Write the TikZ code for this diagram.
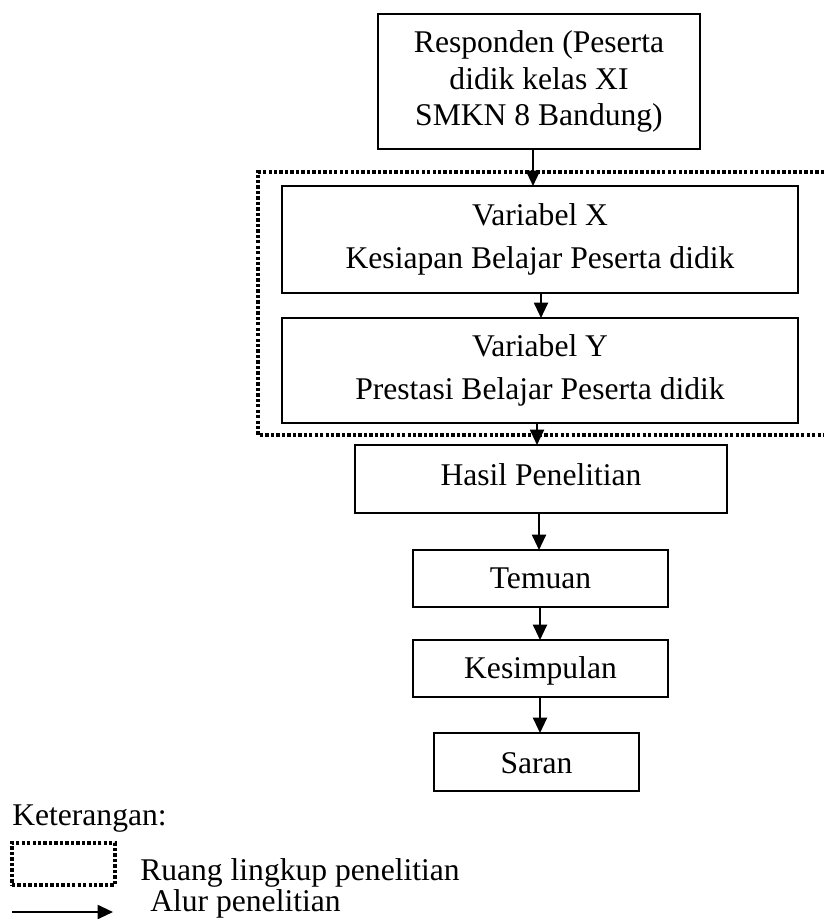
\documentclass[tikz,border=0pt]{standalone}
\usepackage{fontspec}
\setmainfont{Liberation Serif}
\usetikzlibrary{arrows.meta}
\begin{document}
\begin{tikzpicture}[x=0.75pt,y=-0.75pt,
  box/.style={draw, line width=1.5pt, inner sep=0pt, outer sep=0pt, align=center,
    font=\fontsize{23.7pt}{27.4pt}\selectfont},
  vbox/.style={box, font=\fontsize{23.7pt}{32.25pt}\selectfont},
  single/.style={box, text height=16.5pt, text depth=2.25pt},
  arr/.style={line width=1.5pt, -{Triangle[length=11.5pt,width=10.5pt]}},
  scopeline/.style={line width=2.4pt, dash pattern=on 2.5pt off 1.6pt},
  lbl/.style={inner sep=0pt, anchor=base west, font=\fontsize{23.7pt}{27.4pt}\selectfont}]
\useasboundingbox (0,0) rectangle (824,919);

% scope (dotted) frame
\coordinate (s1) at (824,172);
\coordinate (s2) at (258,172);
\coordinate (s3) at (258,435);
\coordinate (s4) at (824,435);
\draw[scopeline] (s1) -- (s2) -- (s3) -- (s4);

% boxes
\node[box, minimum width=241.5pt, minimum height=101.25pt] (resp) at (539,81.5)
  {Responden (Peserta\\didik kelas XI\\SMKN 8 Bandung)};
\node[vbox, minimum width=387pt, minimum height=80.25pt] (vx) at (540,239.5)
  {Variabel X\\Kesiapan Belajar Peserta didik};
\node[vbox, minimum width=387pt, minimum height=78.75pt] (vy) at (540,370.5)
  {Variabel Y\\Prestasi Belajar Peserta didik};
\node[single, text depth=7.5pt, minimum width=279pt, minimum height=51pt] (hasil) at (541,479)
  {Hasil Penelitian};
\node[single, minimum width=191.25pt, minimum height=42.75pt] (temuan) at (540.5,578.5)
  {Temuan};
\node[single, minimum width=191.25pt, minimum height=42.75pt] (kes) at (540.5,668.5)
  {Kesimpulan};
\node[single, text depth=0pt, minimum width=153.75pt, minimum height=43.5pt] (saran) at (536.5,762)
  {Saran};

% connectors
\draw[arr] (533,0 |- resp.south) -- (533,0 |- vx.north);
\draw[arr] (541,0 |- vx.south) -- (541,0 |- vy.north);
\draw[arr] (537,0 |- vy.south) -- (537,0 |- hasil.north);
\draw[arr] (539,0 |- hasil.south) -- (539,0 |- temuan.north);
\draw[arr] (540,0 |- temuan.south) -- (540,0 |- kes.north);
\draw[arr] (540,0 |- kes.south) -- (540,0 |- saran.north);

% legend
\node[lbl] (ket) at (12,825) {Keterangan:};
\node[draw, scopeline, inner sep=0pt, outer sep=0pt, minimum width=77.25pt, minimum height=31.5pt] (legbox) at (63.5,864) {};
\node[lbl] (ruang) at (140,880) {Ruang lingkup penelitian};
\coordinate (la) at (12,912);
\coordinate (lb) at (113,912);
\draw[arr] (la) -- (lb);
\node[lbl] (alur) at (150,911) {Alur penelitian};
\end{tikzpicture}
\end{document}
